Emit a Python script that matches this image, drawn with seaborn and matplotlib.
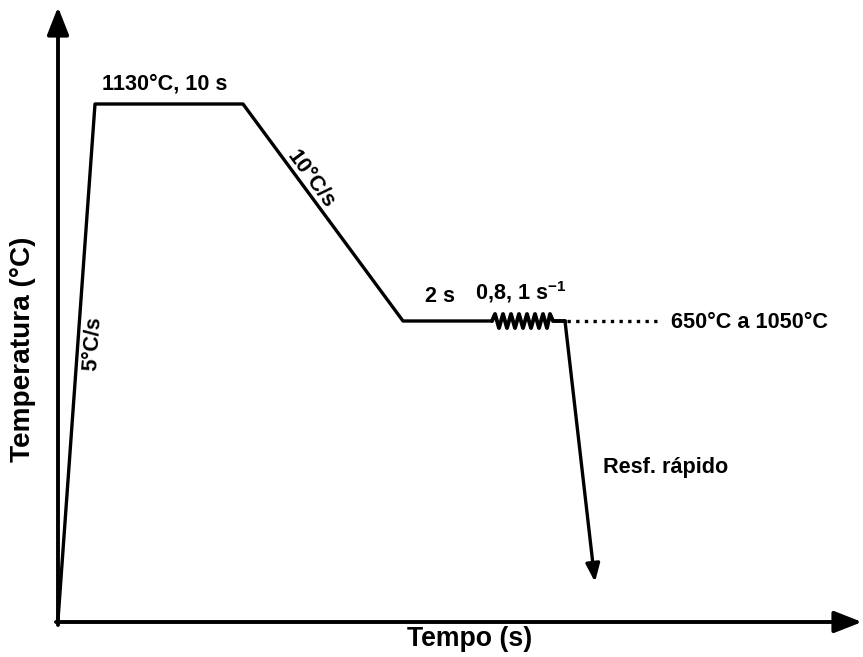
import matplotlib
matplotlib.use("Agg")
import matplotlib.pyplot as plt
import seaborn as sns
import pandas as pd

sns.set_theme(style="white")
plt.rcParams["font.family"] = ["Liberation Sans", "DejaVu Sans"]
plt.rcParams["font.weight"] = "bold"
plt.rcParams["mathtext.fontset"] = "custom"
plt.rcParams["mathtext.rm"] = "Liberation Sans:bold"
plt.rcParams["mathtext.bf"] = "Liberation Sans:bold"

# Schematic thermal cycle (drawing units: time to the right, temperature upward)
cycle_time = [58, 95, 243, 403, 492]
cycle_temp = [37, 553, 553, 336, 336]

# Deformation step drawn as a spring
spring_time = [492, 495, 499, 503, 507, 511, 515, 519, 523, 527, 531, 535, 539,
               543, 547, 550, 553, 565]
spring_temp = [336, 343, 329, 343, 329, 343, 329, 343, 329, 343, 329, 343, 329,
               343, 329, 343, 336, 336]

# Range of deformation temperatures (dotted)
range_time = [567, 657]
range_temp = [336, 336]

# Quench
quench_start = (565, 336)
quench_end = (595, 75)

labels = [
    ("1130°C, 10 s", 165, 573, 0),
    ("10°C/s", 311, 478, -53.6),
    ("2 s", 440, 361, 0),
    (r"0,8, 1 s$^{\mathbf{-1}}$", 521, 365, 0),
    ("650°C a 1050°C", 749, 334, 0),
    ("5°C/s", 93, 314, 86),
    ("Resf. rápido", 666, 190, 0),
]

fig = plt.figure(figsize=(8.63, 6.57), dpi=100)
ax = fig.add_axes([0, 0, 1, 1])
ax.set_xlim(0, 863)
ax.set_ylim(0, 657)
ax.axis("off")

lw = 2.4
df = pd.DataFrame({"t": cycle_time, "T": cycle_temp})
sns.lineplot(data=df, x="t", y="T", sort=False, estimator=None, color="black",
             linewidth=lw, ax=ax)
sns.lineplot(x=spring_time, y=spring_temp, sort=False, estimator=None, color="black",
             linewidth=2.8, ax=ax)
sns.lineplot(x=range_time, y=range_temp, sort=False, estimator=None, color="black",
             linewidth=lw, linestyle=(0, (1.0, 1.6)), ax=ax)

# Quench arrow
ax.annotate("", xy=quench_end, xytext=quench_start,
            arrowprops=dict(arrowstyle="-|>,head_length=0.9,head_width=0.35",
                            color="black", lw=lw, shrinkA=0, shrinkB=0))

# Axes arrows
ax.annotate("", xy=(58, 650), xytext=(58, 32),
            arrowprops=dict(arrowstyle="-|>,head_length=1.4,head_width=0.55",
                            color="black", lw=2.8, shrinkA=0, shrinkB=0))
ax.annotate("", xy=(862, 35), xytext=(56, 35),
            arrowprops=dict(arrowstyle="-|>,head_length=1.4,head_width=0.55",
                            color="black", lw=2.8, shrinkA=0, shrinkB=0))

for txt, x, y, rot in labels:
    ax.text(x, y, txt, ha="center", va="center", rotation=rot,
            rotation_mode="anchor", fontsize=15.6, fontweight="bold", color="black")

ax.text(470, 18, "Tempo (s)", ha="center", va="center", fontsize=19.2,
        fontweight="bold", color="black")
ax.text(23, 308, "Temperatura (°C)", ha="center", va="center", rotation=90,
        fontsize=20.2, fontweight="bold", color="black")

fig.savefig("out.png", dpi=100, facecolor="white")
